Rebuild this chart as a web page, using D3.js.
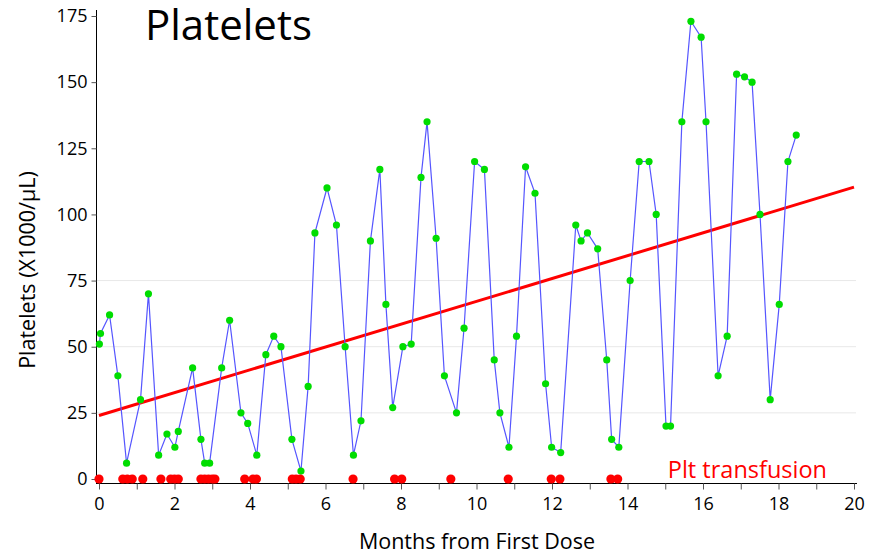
<!DOCTYPE html>
<html>
<head>
<meta charset="utf-8">
<script src="https://cdn.jsdelivr.net/npm/d3@7"></script>
<style>
  body { margin: 0; background: #fff; }
  svg { display: block; font-family: "Open Sans", "Noto Sans", sans-serif; }
</style>
</head>
<body>
<div id="chart"></div>
<script>
const WIDTH = 880;
const HEIGHT = 555;

// platelet counts (x1000/uL) by month from first dose
const months = [0.01, 0.04, 0.28, 0.50, 0.73, 1.10, 1.31, 1.58, 1.80, 2.01, 2.10, 2.48, 2.70, 2.80, 2.93,
  3.25, 3.46, 3.76, 3.94, 4.18, 4.42, 4.63, 4.82, 5.11, 5.35, 5.54, 5.72, 6.04, 6.29, 6.52, 6.74, 6.94,
  7.19, 7.44, 7.60, 7.78, 8.05, 8.27, 8.53, 8.69, 8.93, 9.15, 9.47, 9.67, 9.95, 10.21, 10.47, 10.62,
  10.86, 11.06, 11.30, 11.55, 11.83, 11.99, 12.23, 12.63, 12.77, 12.94, 13.21, 13.45, 13.58, 13.77,
  14.07, 14.31, 14.57, 14.76, 15.02, 15.14, 15.44, 15.68, 15.95, 16.08, 16.40, 16.64, 16.89, 17.10,
  17.30, 17.51, 17.78, 18.02, 18.25, 18.47];
const platelets = [51, 55, 62, 39, 6, 30, 70, 9, 17, 12, 18, 42, 15, 6, 6,
  42, 60, 25, 21, 9, 47, 54, 50, 15, 3, 35, 93, 110, 96, 50, 9, 22,
  90, 117, 66, 27, 50, 51, 114, 135, 91, 39, 25, 57, 120, 117, 45, 25,
  12, 54, 118, 108, 36, 12, 10, 96, 90, 93, 87, 45, 15, 12,
  75, 120, 120, 100, 20, 20, 135, 173, 167, 135, 39, 54, 153, 152,
  150, 100, 30, 66, 120, 130];

// months at which a platelet transfusion was given
const transfusions = [0, 0.63, 0.75, 0.88, 1.16, 1.64, 1.90, 2.00, 2.10, 2.70, 2.80, 2.90, 3.00, 3.07,
  3.86, 4.08, 4.17, 5.12, 5.22, 5.33, 6.73, 7.83, 8.02, 9.32, 10.84, 11.98, 12.21, 13.56, 13.74];

// linear trend endpoints
const trendX = [0, 20];
const trendY = [24, 110.3];

const xTicks = d3.range(0, 21, 1);
const yTicks = [0, 25, 50, 75, 100, 125, 150, 175];
const gridTicks = [25, 50, 75];

const x = d3.scaleLinear().domain([0, 20]).range([99, 854]);
const y = d3.scaleLinear().domain([0, 175]).range([479, 16]);

const svg = d3.select("#chart").append("svg")
  .attr("width", WIDTH)
  .attr("height", HEIGHT);

// grid
svg.append("g")
  .selectAll("line")
  .data(gridTicks)
  .join("line")
  .attr("x1", 97).attr("x2", 856)
  .attr("y1", d => y(d)).attr("y2", d => y(d))
  .attr("stroke", "#e8e8e8")
  .attr("stroke-width", 1);

// x axis
const xAxis = svg.append("g")
  .attr("transform", "translate(0,483.5)")
  .call(d3.axisBottom(x)
    .tickValues(xTicks)
    .tickSize(6)
    .tickSizeOuter(0)
    .tickFormat(d => (d % 2 === 0 ? d : "")));
xAxis.select(".domain").attr("d", "M96,0H857").attr("stroke", "#000");
xAxis.selectAll(".tick line").attr("stroke", "#555");
xAxis.selectAll("text")
  .attr("font-size", 18)
  .attr("font-family", "'Open Sans', sans-serif")
  .attr("fill", "#000")
  .attr("dy", "0.95em");

// y axis
const yAxis = svg.append("g")
  .attr("transform", "translate(96.5,0)")
  .call(d3.axisLeft(y)
    .tickValues(yTicks)
    .tickSize(5)
    .tickSizeOuter(0));
yAxis.select(".domain").attr("d", "M0,10V484").attr("stroke", "#000");
yAxis.selectAll(".tick line").attr("stroke", "#555");
yAxis.selectAll("text")
  .attr("font-size", 18)
  .attr("font-family", "'Open Sans', sans-serif")
  .attr("fill", "#000")
  .attr("x", -9);

// axis labels
svg.append("text")
  .attr("x", 477).attr("y", 549)
  .attr("text-anchor", "middle")
  .attr("font-size", 21.5)
  .text("Months from First Dose");

svg.append("text")
  .attr("transform", "translate(35,270) rotate(-90)")
  .attr("text-anchor", "middle")
  .attr("font-size", 21.5)
  .text("Platelets (X1000/μL)");

// title
svg.append("text")
  .attr("x", 145).attr("y", 40)
  .attr("font-size", 42)
  .text("Platelets");

// legend-ish label
svg.append("text")
  .attr("x", 827).attr("y", 478)
  .attr("text-anchor", "end")
  .attr("font-size", 23.5)
  .attr("fill", "#ff0000")
  .text("Plt transfusion");

// trend line
svg.append("line")
  .attr("x1", x(trendX[0])).attr("y1", y(trendY[0]))
  .attr("x2", x(trendX[1])).attr("y2", y(trendY[1]))
  .attr("stroke", "#ff0000")
  .attr("stroke-width", 3);

// platelet series
const pts = months.map((m, i) => [m, platelets[i]]);
svg.append("path")
  .datum(pts)
  .attr("fill", "none")
  .attr("stroke", "#5555ff")
  .attr("stroke-width", 1.2)
  .attr("d", d3.line().x(d => x(d[0])).y(d => y(d[1])));

svg.append("g")
  .selectAll("circle")
  .data(pts)
  .join("circle")
  .attr("cx", d => x(d[0]))
  .attr("cy", d => y(d[1]))
  .attr("r", 3.6)
  .attr("fill", "#00dd00");

// transfusions
svg.append("g")
  .selectAll("circle")
  .data(transfusions)
  .join("circle")
  .attr("cx", d => x(d))
  .attr("cy", y(0))
  .attr("r", 4.6)
  .attr("fill", "#ff0000");
</script>
</body>
</html>
